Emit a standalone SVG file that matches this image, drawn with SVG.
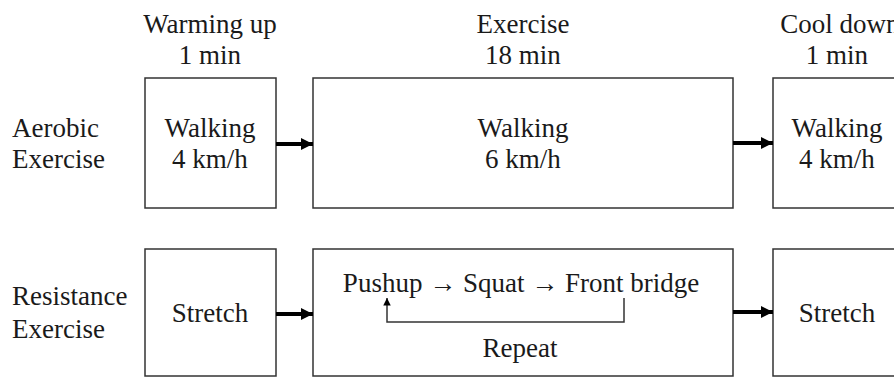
<svg xmlns="http://www.w3.org/2000/svg" width="894" height="379" viewBox="0 0 894 379">
<defs>
<style>
text{font-family:"Liberation Serif","Times New Roman",serif;font-size:27px;fill:#1a1a1a}
.c{text-anchor:middle}
.box{fill:#fff;stroke:#333;stroke-width:1.5}
.arr{stroke:#000;stroke-width:4;fill:none;marker-end:url(#ah)}
.loop{stroke:#333;stroke-width:1.5;fill:none;marker-end:url(#sh)}
</style>
<marker id="ah" viewBox="0 0 10 10" refX="10" refY="5" markerWidth="3" markerHeight="3" orient="auto" markerUnits="strokeWidth">
<path d="M0,0 L10,5 L0,10 z" fill="#000"/>
</marker>
<marker id="sh" viewBox="0 0 10 10" refX="10" refY="5" markerWidth="5" markerHeight="5" orient="auto" markerUnits="strokeWidth">
<path d="M0,0 L10,5 L0,10 z" fill="#000"/>
</marker>
</defs>
<rect width="894" height="379" fill="#fff"/>
<g id="headers">
<text class="c" x="210" y="33">Warming up</text>
<text class="c" x="210" y="64">1 min</text>
<text class="c" x="523" y="33">Exercise</text>
<text class="c" x="523" y="64">18 min</text>
<text class="c" x="840" y="33">Cool down</text>
<text class="c" x="837" y="64">1 min</text>
</g>
<g id="row-labels">
<text x="12" y="137">Aerobic</text>
<text x="12" y="168">Exercise</text>
<text x="12" y="305">Resistance</text>
<text x="12" y="338">Exercise</text>
</g>
<g id="aer-warm">
<rect class="box" x="145" y="78" width="131" height="130"/>
<text class="c" x="210" y="137">Walking</text>
<text class="c" x="210" y="168">4 km/h</text>
</g>
<g id="aer-ex">
<rect class="box" x="313" y="78" width="420" height="130"/>
<text class="c" x="523" y="137">Walking</text>
<text class="c" x="523" y="168">6 km/h</text>
</g>
<g id="aer-cool">
<rect class="box" x="773" y="78" width="130" height="130"/>
<text class="c" x="837" y="137">Walking</text>
<text class="c" x="837" y="168">4 km/h</text>
</g>
<g id="res-warm">
<rect class="box" x="145" y="249" width="131" height="127"/>
<text class="c" x="210" y="322">Stretch</text>
</g>
<g id="res-ex">
<rect class="box" x="313" y="249" width="420" height="127"/>
<text class="c" x="521" y="292">Pushup → Squat → Front bridge</text>
<text class="c" x="520" y="357">Repeat</text>
</g>
<g id="res-cool">
<rect class="box" x="773" y="249" width="130" height="127"/>
<text class="c" x="837" y="322">Stretch</text>
</g>
<g id="connectors">
<line class="arr" x1="276" y1="144" x2="313" y2="144"/>
<line class="arr" x1="733" y1="143" x2="773" y2="143"/>
<line class="arr" x1="276" y1="314" x2="313" y2="314"/>
<line class="arr" x1="733" y1="312" x2="773" y2="312"/>
<polyline class="loop" points="624,298 624,322 387,322 387,298"/>
</g>
</svg>
